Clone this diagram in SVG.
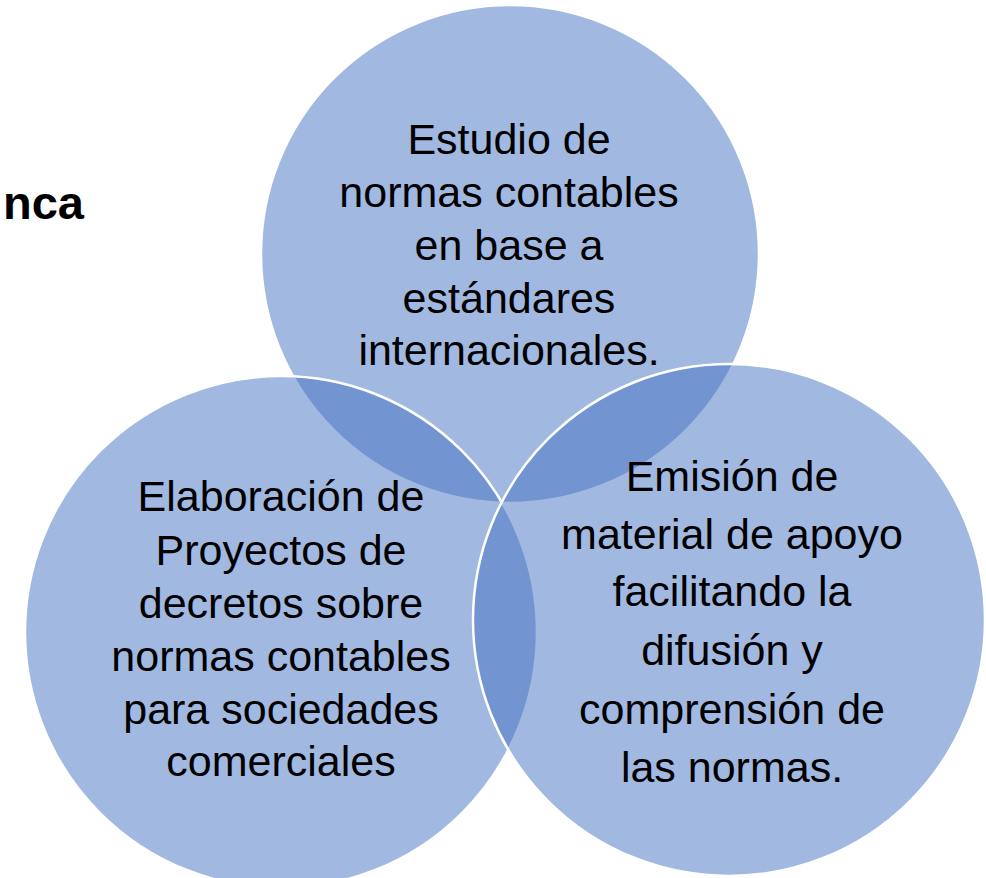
<svg xmlns="http://www.w3.org/2000/svg" width="986" height="878" viewBox="0 0 986 878">
<style>
.c{fill:#4472C4;fill-opacity:0.5;stroke:#FFFFFF;stroke-width:2.5}
.t{font-family:"Liberation Sans",Arial,sans-serif;font-size:43px;fill:#000;text-anchor:middle}
.h{font-family:"Liberation Sans",Arial,sans-serif;font-size:47px;font-weight:bold;fill:#000}
</style>
<rect width="986" height="878" fill="#FFFFFF"/>
<text class="h" x="84" y="219" text-anchor="end">nca</text>
<g id="n1">
<circle class="c" cx="510" cy="254" r="249"/>
</g>
<g id="n2">
<circle class="c" cx="281" cy="632" r="256"/>
</g>
<g id="n3">
<circle class="c" cx="729" cy="620" r="256"/>
</g>
<g id="connectors"></g>
<g id="labels">
<text class="t" x="509"><tspan x="509" y="154">Estudio de</tspan><tspan x="509" y="207">normas contables</tspan><tspan x="509" y="260">en base a</tspan><tspan x="509" y="313">estándares</tspan><tspan x="509" y="365">internacionales.</tspan></text>
<text class="t" x="281"><tspan x="281" y="511">Elaboración de</tspan><tspan x="281" y="565">Proyectos de</tspan><tspan x="281" y="618">decretos sobre</tspan><tspan x="281" y="671">normas contables</tspan><tspan x="281" y="724">para sociedades</tspan><tspan x="281" y="776">comerciales</tspan></text>
<text class="t" x="732"><tspan x="732" y="491">Emisión de</tspan><tspan x="732" y="549">material de apoyo</tspan><tspan x="732" y="606">facilitando la</tspan><tspan x="732" y="665">difusión y</tspan><tspan x="732" y="724">comprensión de</tspan><tspan x="732" y="782">las normas.</tspan></text>
</g>
</svg>
